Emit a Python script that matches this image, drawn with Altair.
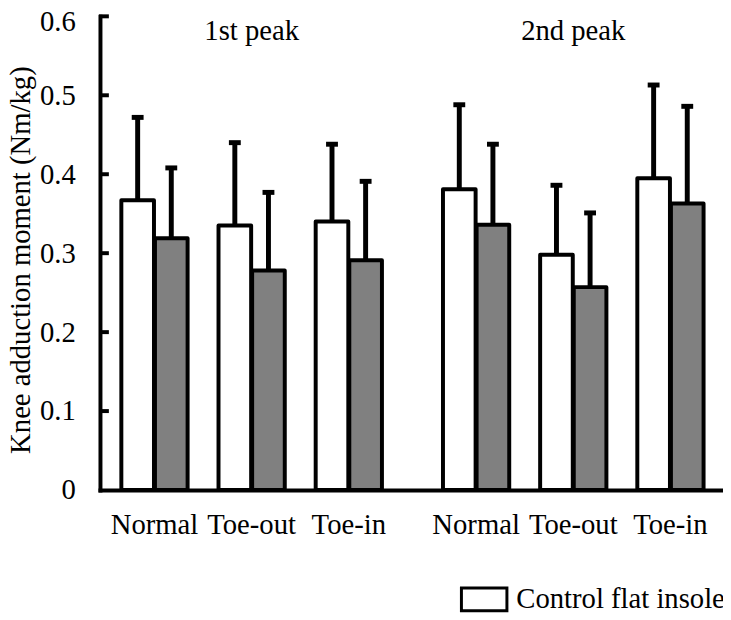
import altair as alt
import pandas as pd

# ---- data ----
peaks = ["1st peak", "2nd peak"]
conditions = ["Normal", "Toe-out", "Toe-in"]
insoles = ["Control flat insole", "Lateral wedge insole"]

control_mean = [0.367, 0.335, 0.340, 0.381, 0.298, 0.395]
control_sd = [0.105, 0.105, 0.098, 0.107, 0.088, 0.118]
wedge_mean = [0.319, 0.278, 0.291, 0.336, 0.257, 0.363]
wedge_sd = [0.089, 0.099, 0.100, 0.102, 0.094, 0.123]

y_ticks = [0, 0.1, 0.2, 0.3, 0.4, 0.5, 0.6]

# ---- layout ----
GROUP_STEP = 3.31
W, H = 630, 479
FONT = "Liberation Serif"
FS = 29
OFF = 17

rows = []
for i in range(len(control_mean)):
    g, c = divmod(i, len(conditions))
    pos = g * GROUP_STEP + c
    for ins, m, s in ((insoles[0], control_mean[i], control_sd[i]),
                      (insoles[1], wedge_mean[i], wedge_sd[i])):
        rows.append(dict(peak=peaks[g], condition=conditions[c], insole=ins,
                         pos=pos, mean=m, top=m + s))
df = pd.DataFrame(rows)

lab_df = df[df.insole == insoles[0]][["pos", "condition", "peak"]]
peak_df = lab_df.groupby("peak", as_index=False)["pos"].mean()
tick_df = pd.DataFrame({"v": y_ticks[1:]})

xscale = alt.Scale(domain=[-0.51, 5.80], nice=False, zero=False)
yscale = alt.Scale(domain=[0, 0.6], nice=False)
fill_scale = alt.Scale(domain=insoles, range=["#ffffff", "#808080"])
YT = "Knee adduction moment (Nm/kg)"

xaxis = alt.Axis(labels=False, ticks=False, title=None, grid=False)
yaxis = alt.Axis(values=y_ticks,
                 labelExpr="datum.value == 0 ? '0' : format(datum.value, '.1f')",
                 labelOffset={"condition": {"test": "datum.value > 0.55", "value": 5},
                              "value": 0},
                 tickSize=0, labelPadding=25, title=YT, titlePadding=4,
                 titleY=246, grid=False)
legend = alt.Legend(orient="none", legendX=364, legendY=565, direction="horizontal",
                    values=[insoles[0]], title=None, labelFont=FONT, labelFontSize=FS,
                    labelColor="black", labelLimit=0,
                    symbolType="M-1,-0.5H1V0.5H-1Z", symbolSize=2116,
                    symbolStrokeColor="black", symbolStrokeWidth=3, symbolOpacity=1,
                    labelOffset=8, padding=0)

base = alt.Chart(df)
layers = []
for ins, off in ((insoles[0], -OFF), (insoles[1], OFF)):
    sub = base.transform_filter(alt.datum.insole == ins)
    layers.append(sub.mark_bar(size=33, xOffset=off, stroke="black", strokeWidth=4,
                               strokeJoin="round").encode(
        x=alt.X("pos:Q", scale=xscale, axis=xaxis),
        y=alt.Y("mean:Q", scale=yscale, axis=yaxis, title=YT),
        fill=alt.Fill("insole:N", scale=fill_scale, legend=legend)))
for ins, off in ((insoles[0], -OFF), (insoles[1], OFF)):
    sub = base.transform_filter(alt.datum.insole == ins)
    layers.append(sub.mark_rule(xOffset=off, strokeWidth=5, color="black").encode(
        x=alt.X("pos:Q", scale=xscale, axis=xaxis),
        y=alt.Y("mean:Q", scale=yscale, axis=yaxis, title=YT), y2="top:Q"))
    layers.append(sub.mark_tick(orient="horizontal", size=12, thickness=5, xOffset=off,
                                color="black", opacity=1).encode(
        x=alt.X("pos:Q", scale=xscale, axis=xaxis),
        y=alt.Y("top:Q", scale=yscale, axis=yaxis, title=YT)))

layers.append(alt.Chart(tick_df).mark_tick(orient="horizontal", size=10, thickness=4,
                                           color="black", opacity=1).encode(
    x=alt.value(4), y=alt.Y("v:Q", scale=yscale, axis=yaxis, title=YT)))

layers.append(alt.Chart(lab_df).mark_text(font=FONT, fontSize=FS, color="black",
                                          baseline="alphabetic", align="center").encode(
    x=alt.X("pos:Q", scale=xscale, axis=xaxis), y=alt.value(523), text="condition:N"))
layers.append(alt.Chart(peak_df).mark_text(font=FONT, fontSize=FS, color="black",
                                           baseline="alphabetic", align="center").encode(
    x=alt.X("pos:Q", scale=xscale, axis=xaxis), y=alt.value(24), text="peak:N"))

chart = alt.layer(*layers).properties(
    width=W, height=H,
    autosize=alt.AutoSizeParams(type="none"),
    padding={"left": 93, "top": 5, "right": 0, "bottom": 128},
    background="white",
).configure_view(stroke=None).configure_axis(
    labelFont=FONT, labelFontSize=FS, labelColor="black",
    titleFont=FONT, titleFontSize=FS, titleFontWeight="normal", titleColor="black",
    domainWidth=4, domainColor="black", domainCap="square", labelLimit=0,
)

chart.save("out.html", embed_options={"renderer": "svg", "actions": False})
